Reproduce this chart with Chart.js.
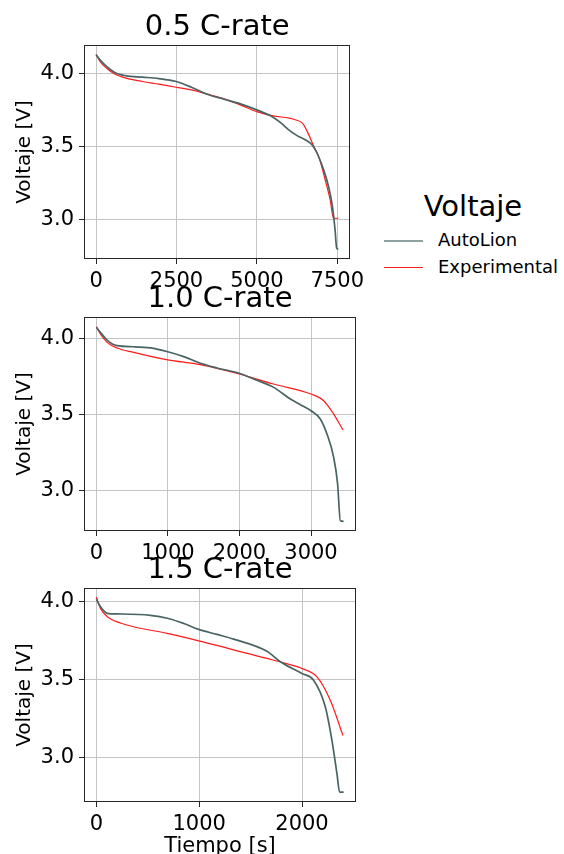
<!DOCTYPE html>
<html>
<head>
<meta charset="utf-8">
<script src="https://cdn.jsdelivr.net/npm/chart.js@4.4.1/dist/chart.umd.min.js"></script>
<style>
  html, body { margin:0; padding:0; background:#fff; }
  body { width:564px; height:854px; position:relative; overflow:hidden; font-family:"DejaVu Sans", sans-serif; }
  canvas { position:absolute; left:0; }
  .lg { position:absolute; color:#000; white-space:nowrap; }
  .ln { position:absolute; }
</style>
</head>
<body>
<canvas id="c1" width="370" height="290" style="top:0px"></canvas>
<canvas id="c2" width="370" height="290" style="top:272px"></canvas>
<canvas id="c3" width="370" height="314" style="top:543px"></canvas>

<div class="lg" style="left:373px;width:200px;text-align:center;top:192px;font-size:29px;line-height:29px;">Voltaje</div>
<div class="ln" style="left:384px;top:240px;width:39px;height:2px;background:#8da1a1;"></div>
<div class="lg" style="left:438px;top:231px;font-size:18px;line-height:18px;">AutoLion</div>
<div class="ln" style="left:384px;top:267px;width:39px;height:1px;background:#ff2020;"></div>
<div class="lg" style="left:438px;top:258px;font-size:18px;line-height:18px;">Experimental</div>

<script>
// ---------- data ----------
const titles = ["0.5 C-rate", "1.0 C-rate", "1.5 C-rate"];
const seriesNames = ["AutoLion", "Experimental"];

// 0.5 C-rate
const t05Auto = [0,122,325,579,934,1441,1949,2487,2964,3431,3979,4486,4994,5501,5755,5989,6262,6516,6719,6872,7075,7227,7349,7430,7481,7531];
const v05Auto = [4.126,4.091,4.046,4.005,3.982,3.973,3.963,3.943,3.904,3.858,3.822,3.790,3.749,3.699,3.658,3.612,3.571,3.543,3.509,3.452,3.338,3.224,3.087,2.927,2.801,2.795];
const t05Exp  = [0,122,325,579,934,1441,1949,2487,2964,3431,3979,4486,4994,5501,6009,6212,6415,6567,6770,6922,7125,7278,7379,7531];
const v05Exp  = [4.130,4.080,4.034,3.995,3.966,3.943,3.925,3.904,3.886,3.858,3.824,3.783,3.737,3.708,3.692,3.680,3.658,3.600,3.498,3.429,3.269,3.132,3.007,3.007];

// 1.0 C-rate
const t10Auto = [0,56,149,289,522,755,997,1220,1453,1686,1998,2199,2478,2711,2851,3000,3130,3223,3317,3372,3410,3456];
const v10Auto = [4.077,4.044,3.993,3.956,3.949,3.941,3.916,3.884,3.840,3.809,3.774,3.736,3.681,3.604,3.567,3.527,3.473,3.374,3.220,3.044,2.802,2.798];
const t10Exp  = [0,56,149,289,522,997,1453,1998,2478,3000,3177,3317,3447];
const v10Exp  = [4.081,4.033,3.978,3.941,3.912,3.862,3.831,3.769,3.703,3.637,3.593,3.505,3.400];

// 1.5 C-rate
const t15Auto = [0,39,104,201,525,700,850,995,1173,1335,1659,1789,1999,2113,2227,2291,2340,2366,2405];
const v15Auto = [4.015,3.968,3.925,3.921,3.912,3.892,3.860,3.822,3.790,3.760,3.682,3.615,3.540,3.497,3.325,3.111,2.897,2.780,2.780];
const t15Exp  = [0,39,104,298,687,995,1659,1821,1999,2146,2275,2398];
const v15Exp  = [4.028,3.957,3.904,3.850,3.797,3.749,3.636,3.608,3.572,3.518,3.368,3.143];

// tick labels
const xTicks05 = [0, 2500, 5000, 7500];
const xTicks10 = [0, 1000, 2000, 3000];
const xTicks15 = [0, 1000, 2000];
const yTicks = [3.0, 3.5, 4.0];

const yLabel = "Voltaje [V]";
const xLabel = "Tiempo [s]";

// ---------- drawing ----------
Chart.defaults.font.family = '"DejaVu Sans", sans-serif';
Chart.defaults.color = '#000';

const FONT_TICK = 21;

const frame = {
  id: 'frame',
  afterDraw(chart) {
    const {ctx, chartArea: a} = chart;
    ctx.save();
    ctx.strokeStyle = '#262626';
    ctx.lineWidth = 1;
    const l = Math.round(a.left) + 0.5, t = Math.round(a.top) + 0.5;
    const r = Math.round(a.right) - 0.5, b = Math.round(a.bottom) - 0.5;
    ctx.strokeRect(l, t, r - l, b - t);
    ctx.restore();
  }
};

function pts(ts, vs) { return ts.map((t, i) => ({x: t, y: vs[i]})); }

function makeChart(id, title, autoT, autoV, expT, expV, xTicks, xRange, yRange, xAxisH, showXLabel) {
  const ctx = document.getElementById(id);
  return new Chart(ctx, {
    type: 'line',
    data: {
      datasets: [
        { label: seriesNames[0], data: pts(autoT, autoV), borderColor: '#4a6464', borderWidth: 1.7,
          pointRadius: 0, cubicInterpolationMode: 'monotone', fill: false },
        { label: seriesNames[1], data: pts(expT, expV), borderColor: '#ff1a1a', borderWidth: 1.2,
          pointRadius: 0, cubicInterpolationMode: 'monotone', fill: false }
      ]
    },
    options: {
      responsive: false,
      animation: false,
      devicePixelRatio: 1,
      layout: { padding: { left: 0, right: 14, top: 0, bottom: 0 } },
      plugins: {
        legend: { display: false },
        tooltip: { enabled: false },
        title: {
          display: true, text: title, fullSize: false,
          font: { size: 29, weight: 'normal', lineHeight: 1 },
          color: '#000',
          padding: { top: 13, bottom: 3 }
        }
      },
      scales: {
        x: {
          type: 'linear',
          min: xRange[0], max: xRange[1],
          afterBuildTicks: s => { s.ticks = xTicks.map(v => ({value: v})); },
          afterFit: s => { s.height = xAxisH; },
          ticks: { font: { size: FONT_TICK }, color: '#000', padding: 5, maxRotation: 0, autoSkip: false,
                   callback: v => String(v) },
          grid: { color: '#c4c4c4', lineWidth: 1, drawTicks: true, tickLength: 5, tickColor: '#262626' },
          border: { display: false },
          title: { display: showXLabel, text: xLabel, font: { size: 21, lineHeight: 1 }, color: '#000',
                   padding: { top: 0, bottom: 0 } }
        },
        y: {
          type: 'linear',
          min: yRange[0], max: yRange[1],
          afterBuildTicks: s => { s.ticks = yTicks.map(v => ({value: v})); },
          afterFit: s => { s.width = 84; },
          ticks: { font: { size: FONT_TICK }, color: '#000', padding: 5, autoSkip: false,
                   callback: v => Number(v).toFixed(1) },
          grid: { color: '#c4c4c4', lineWidth: 1, drawTicks: true, tickLength: 5, tickColor: '#262626' },
          border: { display: false },
          title: { display: true, text: yLabel, font: { size: 20, lineHeight: 1.2 }, color: '#000',
                   padding: { top: 13, bottom: 0 } }
        }
      }
    },
    plugins: [frame]
  });
}

makeChart('c1', titles[0], t05Auto, v05Auto, t05Exp, v05Exp, xTicks05, [-376, 7907], [2.728, 4.193], 31, false);
makeChart('c2', titles[1], t10Auto, v10Auto, t10Exp, v10Exp, xTicks10, [-173, 3629], [2.734, 4.145], 31, false);
makeChart('c3', titles[2], t15Auto, v15Auto, t15Exp, v15Exp, xTicks15, [-120, 2525], [2.717, 4.087], 55, true);
</script>
</body>
</html>
